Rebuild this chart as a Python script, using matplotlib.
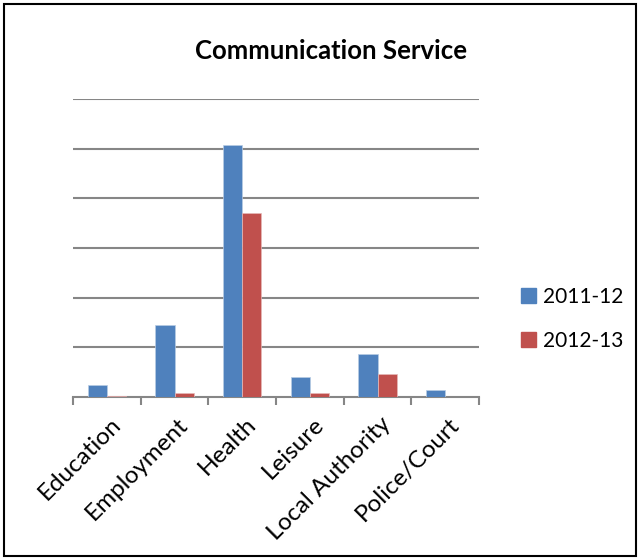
import matplotlib
matplotlib.use("Agg")
import matplotlib.pyplot as plt
import matplotlib.patches as mpatches
import matplotlib.transforms as mtransforms
import numpy as np

categories = ["Education", "Employment", "Health", "Leisure", "Local Authority", "Police/Court"]
series_names = ["2011-12", "2012-13"]
values_2011 = [2.5, 14.5, 50.7, 4.0, 8.7, 1.4]
values_2012 = [0.3, 0.9, 37.0, 0.9, 4.6, 0.0]
colors = ["#4F81BD", "#C0504D"]

plt.rcParams['font.family'] = ['Lato', 'DejaVu Sans']

fig = plt.figure(figsize=(6.41, 5.60), dpi=100)
ax = fig.add_axes([73/641, 1-397/560, 406/641, 298/560])

x = np.arange(len(categories))
w = 0.285
ax.bar(x - w/2, values_2011, w, color=colors[0], label=series_names[0], zorder=3,
       edgecolor='#b8cce4', linewidth=0.5)
ax.bar(x + w/2, values_2012, w, color=colors[1], label=series_names[1], zorder=3,
       edgecolor='#e6b9b8', linewidth=0.5)

ax.set_xlim(-0.5, len(categories) - 0.5)
ax.set_ylim(0, 60)
ax.set_yticks(np.arange(10, 61, 10))
ax.yaxis.grid(True, color='#868686', linewidth=1.5, zorder=0)
ax.tick_params(axis='y', length=0, labelleft=False)
for s in ['top', 'right', 'left']:
    ax.spines[s].set_visible(False)
ax.spines['bottom'].set_color('#868686')
ax.spines['bottom'].set_linewidth(1.5)

ax.set_xticks(np.arange(-0.5, len(categories), 1.0))
ax.set_xticklabels([])
ax.tick_params(axis='x', which='major', length=6, width=1.5, color='#868686', direction='out')
ax.set_xticks(x, minor=True)
ax.set_xticklabels(categories, minor=True, rotation=45, ha='right', va='top',
                   rotation_mode='anchor', fontsize=17.5)
ax.tick_params(axis='x', which='minor', length=0, pad=12)
offset = mtransforms.ScaledTranslation(3/100, 0, fig.dpi_scale_trans)
for lbl in ax.get_xticklabels(minor=True):
    lbl.set_transform(lbl.get_transform() + offset)

fig.text(331/641, 1-51/560, "Communication Service", ha='center', va='center',
         fontsize=18.5, fontweight='bold')

handles = [mpatches.Patch(color=c) for c in colors]
fig.legend(handles, series_names, loc='center left', bbox_to_anchor=(502/641, 1-319/560),
           frameon=False, fontsize=15, handlelength=0.75, handleheight=0.75,
           labelspacing=1.15, handletextpad=0.3)

fig.patches.append(mpatches.Rectangle((4/641, 4/560), 632/641, 552/560, transform=fig.transFigure,
                                      fill=False, edgecolor='black', linewidth=1.5))

fig.savefig("out.png", dpi=100)
